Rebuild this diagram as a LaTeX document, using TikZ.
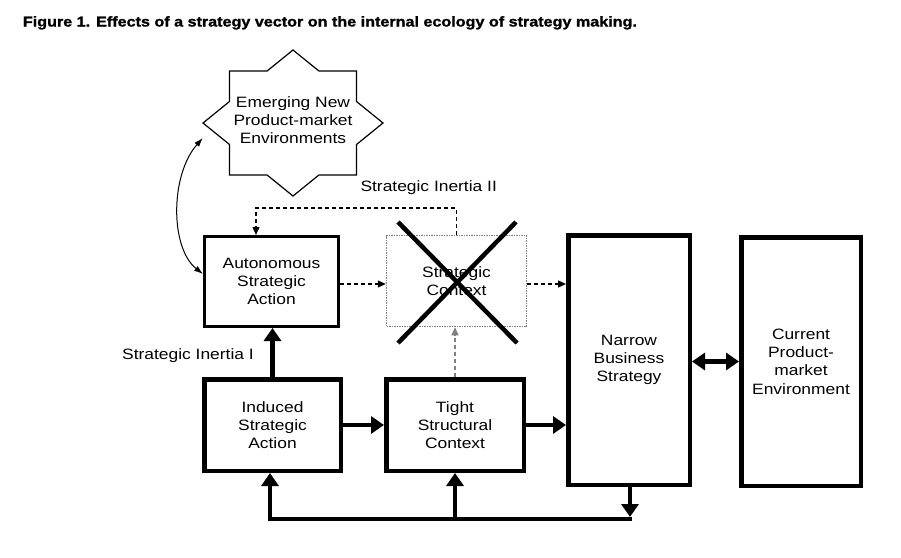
\documentclass[tikz,border=0pt]{standalone}
\usepackage{graphicx}
\usepackage{fontspec}
\setmainfont{Liberation Sans}[FakeStretch=1.16]
\newfontfamily\titlefont{Liberation Sans}[FakeBold=1.2]
\usetikzlibrary{arrows.meta,calc}
\begin{document}
\begin{tikzpicture}[x=1pt,y=-1pt,
  txt/.style={font=\fontsize{15}{18.3}\selectfont, align=center, inner sep=0pt},
  box/.style={txt, draw, line width=#1},
  box/.default=4.5pt,
  thickarr/.style={line width=4.5pt, -{Triangle[length=13pt,width=17pt]}},
  dasharr/.style={line width=1.2pt, dash pattern=on 4pt off 3pt, -{Triangle[length=8pt,width=7pt]}},
  crossline/.style={line width=4.5pt},
  starline/.style={line width=1.2pt}
]
\fill[white] (0,0) rectangle (901,557);
\useasboundingbox (0,0) rectangle (901,557);

% title
\node[anchor=base west, inner sep=0pt] (title) at (22.7,26.5)
  {\resizebox{614pt}{10.3pt}{\titlefont\bfseries Figure 1. Effects of a strategy vector on the internal ecology of strategy making.}};

% star
\node[txt, minimum width=180pt, minimum height=146pt] (emerge) at (293,120)
  {Emerging New\\Product-market\\Environments};
\draw[starline, shift={(293,123)}]
  (0,-73) -- (25.9,-52) -- (63.5,-52) -- (63.5,-21.5) -- (90,0) -- (63.5,21.5)
  -- (63.5,52) -- (25.9,52) -- (0,73) -- (-25.9,52) -- (-63.5,52) -- (-63.5,21.5)
  -- (-90,0) -- (-63.5,-21.5) -- (-63.5,-52) -- (-25.9,-52) -- cycle;

% boxes
\node[box=3pt, minimum width=134pt, minimum height=90pt] (asa) at (271.5,281.5)
  {Autonomous\\Strategic\\Action};
\node[box, minimum width=136.5pt, minimum height=91.5pt] (isa) at (272.5,425)
  {Induced\\Strategic\\Action};
\node[box, minimum width=137.5pt, minimum height=91.5pt] (tsc) at (455,425)
  {Tight\\Structural\\Context};
\node[txt, draw=gray, densely dotted, line width=1.5pt, minimum width=140pt, minimum height=91pt] (sc) at (456.5,281)
  {Strategic\\Context};
\node[box, minimum width=121.5pt, minimum height=249.5pt] (nbs) at (629,360)
  {Narrow\\Business\\Strategy};
\node[box, minimum width=119.5pt, minimum height=248.5pt] (cpe) at (801,361.5)
  {Current\\Product-\\market\\Environment};

% labels
\node[txt] (si2) at (428.7,188) {Strategic Inertia II};
\node[txt] (si1) at (188,356) {Strategic Inertia I};

% cross over strategic context
\draw[crossline] (398,222) -- (517,343);
\draw[crossline] (516,222) -- (398,343);

% thick connectors
\draw[thickarr] (isa.north) -- (isa.north |- asa.south);
\draw[thickarr] (isa.east) -- (tsc.west);
\draw[thickarr] (tsc.east) -- (tsc.east -| nbs.west);
\draw[line width=4.5pt, {Triangle[length=13pt,width=17pt]}-{Triangle[length=13pt,width=17pt]}]
  (nbs.east |- cpe.west) -- (cpe.west);

\coordinate (br) at (630,519);
\coordinate (bl) at (270,519);
\draw[thickarr] (nbs.south -| br) -- ([yshift=2pt]br);
\draw[thickarr, line join=miter] ([xshift=2.25pt]br) -- (bl) -- (bl |- isa.south);
\draw[thickarr] (tsc.south |- bl) -- (tsc.south);

% dashed connectors
\draw[dasharr] ([yshift=-2.5pt]asa.east) -- ([yshift=-2.5pt]asa.east -| sc.west);
\draw[dasharr] ([yshift=-3pt]sc.east) -- ([yshift=-3pt]sc.east -| nbs.west);
\coordinate (fb) at (256,208);
\draw[dasharr] (sc.north) |- (fb) -- (fb |- asa.north);
\draw[dasharr, gray] (tsc.north) -- (tsc.north |- sc.south);

% curved double arrow
\draw[line width=1pt, {Latex[length=9pt,width=6pt]}-{Latex[length=9pt,width=6pt]}]
  ([yshift=-18pt]emerge.west) .. controls (170,175) and (170,248) .. ([yshift=7.5pt]asa.west);
\end{tikzpicture}
\end{document}
